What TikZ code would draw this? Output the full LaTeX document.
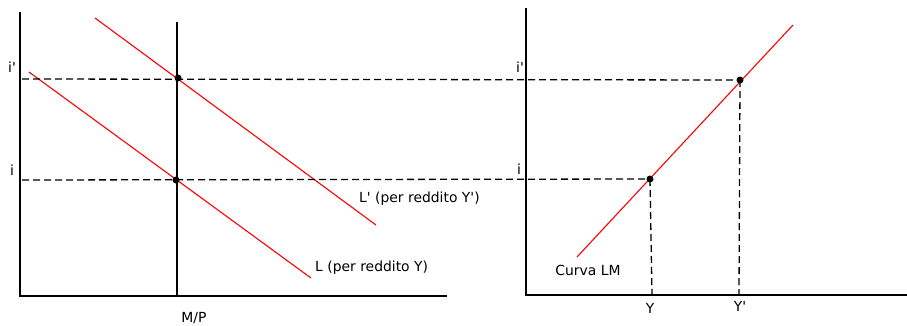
\documentclass[tikz,border=0pt]{standalone}
\usepackage{fontspec}
\newfontfamily\lblfont{DejaVu Sans}
\begin{document}
\begin{tikzpicture}[x=1pt,y=-1pt,
  axis/.style={line width=1.2pt,black},
  curve/.style={red,line width=1.1pt},
  guide/.style={dash pattern=on 7pt off 4pt,line width=1.3pt},
  dot/.style={circle,fill=black,inner sep=0pt,minimum size=7pt},
  lbl/.style={font=\lblfont\fontsize{13.9}{15}\selectfont,inner sep=1pt}]
\useasboundingbox (0,0) rectangle (907,325);
% left graph
\coordinate (Lytop) at (20,12);
\coordinate (Lo) at (20,296);
\coordinate (Lxend) at (447,296);
\draw[axis] (Lytop) -- (Lo) -- (Lxend);
\coordinate (MPtop) at (177,22);
\coordinate (MPbot) at (177,297);
\draw[axis,line width=1.1pt] (MPtop) -- (MPbot);
% red L curves
\coordinate (Lpa) at (95,18);
\coordinate (Lpb) at (376,225);
\coordinate (La) at (29,72);
\coordinate (Lb) at (311,278);
\draw[curve] (Lpa) -- (Lpb);
\draw[curve] (La) -- (Lb);
\node[dot] (A2) at (178,78) {};
\node[dot] (A1) at (176,180) {};
% right graph
\coordinate (Rytop) at (526,8);
\coordinate (Ro) at (526,295);
\coordinate (Rxend) at (907,295);
\draw[axis] (Rytop) -- (Ro) -- (Rxend);
\coordinate (LMa) at (577,257);
\coordinate (LMb) at (793,25);
\draw[curve] (LMa) -- (LMb);
\node[dot] (B1) at (650,179) {};
\node[dot] (B2) at (740,80) {};
% dashed guides
\coordinate (g2) at (22,79);
\coordinate (g1) at (22,180);
\coordinate (Yb) at (652,295);
\coordinate (Ypb) at (739,295);
\draw[guide] (g2) -- (B2.center);
\draw[guide] (g1) -- (B1.center);
\draw[guide] (B1.center) -- (Yb);
\draw[guide] (B2.center) -- (Ypb);
% labels
\node[lbl] (il2) at (12,67) {i'};
\node[lbl] (il1) at (12,170) {i};
\node[lbl] (mp) at (194,318) {M/P};
\node[lbl,anchor=west] (Lplab) at (358,199) {L' (per reddito Y')};
\node[lbl,anchor=west] (Llab) at (314,268) {L (per reddito Y)};
\node[lbl] (ir2) at (520,67) {i'};
\node[lbl] (ir1) at (519,169) {i};
\node[lbl] (ylab) at (650,308) {Y};
\node[lbl] (yplab) at (740,306) {Y'};
\node[lbl] (lmlab) at (588,270) {Curva LM};
\end{tikzpicture}
\end{document}
